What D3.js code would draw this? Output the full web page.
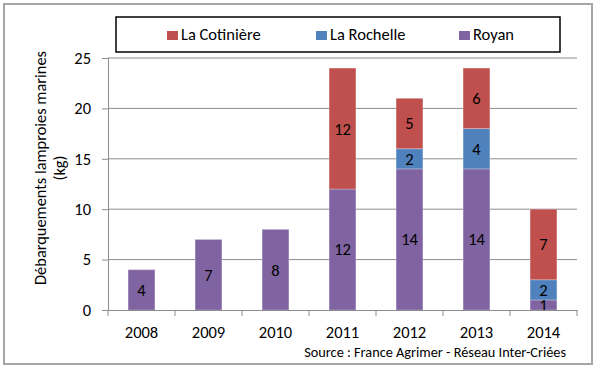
<!DOCTYPE html>
<html><head><meta charset="utf-8">
<script src="https://cdn.jsdelivr.net/npm/d3@7"></script>
<style>body{margin:0;background:#fff}svg{display:block}text{font-family:Carlito,Lato,"Liberation Sans",sans-serif}</style>
</head><body><svg id="c" width="600" height="369"></svg>
<script>
const years = ["2008","2009","2010","2011","2012","2013","2014"];
const royan = [4,7,8,12,14,14,1];
const laRochelle = [0,0,0,0,2,4,2];
const laCotiniere = [0,0,0,12,5,6,7];
const seriesNames = ["Royan","La Rochelle","La Cotinière"];
const legendOrder = ["La Cotinière","La Rochelle","Royan"];
const yTicks = [0,5,10,15,20,25];
const colors = {"Royan":"#8064A2","La Rochelle":"#4F81BD","La Cotinière":"#C0504D"};

const svg = d3.select("#c");
svg.append("rect").attr("x",4).attr("y",4).attr("width",588).attr("height",360)
  .attr("fill","#fff").attr("stroke","#a6a6a6").attr("stroke-width",2);

const m = {l:108, r:577, t:58, b:310};
const x = d3.scaleBand().domain(years).range([m.l,m.r]).paddingInner(0.6).paddingOuter(0.3);
const xb = d3.scaleBand().domain(years).range([m.l,m.r]);
const y = d3.scaleLinear().domain([0,25]).range([m.b,m.t]);

// gridlines
svg.append("g").selectAll("line").data(yTicks.filter(d=>d>0)).join("line")
  .attr("x1",m.l).attr("x2",m.r).attr("y1",d=>y(d)).attr("y2",d=>y(d))
  .attr("stroke","#8c8c8c").attr("stroke-width",1);

// y axis
const ya = svg.append("g").attr("transform",`translate(${m.l},0)`)
  .call(d3.axisLeft(y).tickValues(yTicks).tickSize(6).tickPadding(11));
ya.select(".domain").attr("stroke","#8c8c8c");
ya.selectAll(".tick line").attr("stroke","#8c8c8c");
ya.selectAll("text").attr("font-size",16.5).attr("fill","#000");

// stacked bars
const data = years.map((yr,i)=>({year:yr,"Royan":royan[i],"La Rochelle":laRochelle[i],"La Cotinière":laCotiniere[i]}));
const stack = d3.stack().keys(seriesNames)(data);
const g = svg.append("g");
stack.forEach(s=>{
  const key = s.key;
  s.forEach(d=>{
    const v = d[1]-d[0];
    if(v<=0) return;
    g.append("rect").attr("x",x(d.data.year)).attr("width",x.bandwidth())
      .attr("y",y(d[1])).attr("height",y(d[0])-y(d[1]))
      .attr("fill",colors[key]).attr("stroke","rgba(255,255,255,0.25)").attr("stroke-width",1);
    g.append("text").attr("x",x(d.data.year)+x.bandwidth()/2).attr("y",(y(d[0])+y(d[1]))/2)
      .attr("dy","0.36em").attr("text-anchor","middle").attr("font-size",16.5).attr("fill","#000")
      .text(v);
  });
});

// x axis
const xa = svg.append("g").attr("transform",`translate(0,${m.b})`)
  .call(d3.axisBottom(xb).tickSize(0).tickPadding(16));
xa.select(".domain").attr("stroke","#8c8c8c");
xa.selectAll("text").attr("font-size",16.5).attr("fill","#000");
svg.append("g").selectAll("line").data(d3.range(years.length+1)).join("line")
  .attr("x1",i=>m.l+i*xb.step()).attr("x2",i=>m.l+i*xb.step())
  .attr("y1",m.b).attr("y2",m.b+6).attr("stroke","#8c8c8c");

// y label
const yl = svg.append("text").attr("transform","translate(46,168) rotate(-90)")
  .attr("text-anchor","middle").attr("font-size",16.4).attr("fill","#000");
yl.append("tspan").attr("x",0).attr("dy",0).text("Débarquements lamproies marines");
yl.append("tspan").attr("x",0).attr("dy",19).text("(kg)");

// legend
svg.append("rect").attr("x",116).attr("y",17).attr("width",444).attr("height",35)
  .attr("fill","#fff").attr("stroke","#000").attr("stroke-width",1.5);
const lx = [167,316,459];
legendOrder.forEach((k,i)=>{
  svg.append("rect").attr("x",lx[i]).attr("y",31).attr("width",11).attr("height",9).attr("fill",colors[k]);
  svg.append("text").attr("x",lx[i]+14).attr("y",40).attr("font-size",16.5).attr("fill","#000").text(k);
});

// source
svg.append("text").attr("x",566).attr("y",357).attr("text-anchor","end")
  .attr("font-size",14.3).attr("fill","#000").text("Source : France Agrimer - Réseau Inter-Criées");
</script></body></html>
